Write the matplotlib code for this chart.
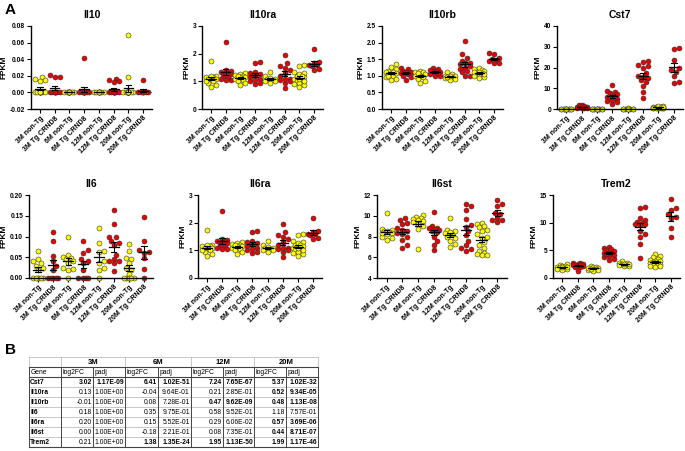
import numpy as np
import matplotlib
matplotlib.use("Agg")
import matplotlib.pyplot as plt

plt.rcParams['font.family'] = ['Liberation Sans', 'DejaVu Sans']

# ---------------- data ----------------
groups = ["3M non-Tg", "3M Tg CRND8", "6M non-Tg", "6M Tg CRND8",
          "12M non-Tg", "12M Tg CRND8", "20M non-Tg", "20M Tg CRND8"]

il10 = [
    [0.018, 0.016, 0.015, 0.014, 0, 0, 0, 0, 0, 0, 0, 0, 0, 0],
    [0.021, 0.019, 0.018, 0, 0, 0, 0, 0, 0, 0, 0, 0],
    [0, 0, 0, 0, 0, 0, 0, 0, 0, 0, 0, 0],
    [0.042, 0, 0, 0, 0, 0, 0, 0, 0, 0, 0, 0],
    [0, 0, 0, 0, 0, 0, 0, 0, 0, 0],
    [0.016, 0.015, 0.014, 0.013, 0, 0, 0, 0, 0, 0, 0, 0, 0, 0, 0],
    [0.069, 0.018, 0, 0, 0, 0, 0, 0, 0, 0, 0, 0, 0, 0, 0, 0, 0],
    [0.015, 0, 0, 0, 0, 0, 0, 0],
]
il10ra = [
    [1.75, 1.2, 1.15, 1.1, 1.05, 1.0, 0.95, 0.85, 0.8, 1.15, 1.1, 1.2, 1.0],
    [2.42, 1.42, 1.38, 1.35, 1.3, 1.2, 1.15, 1.1, 1.05, 1.05, 1.25],
    [1.3, 1.25, 1.22, 1.2, 1.15, 1.1, 1.05, 1.0, 0.95, 0.85, 1.15, 1.2],
    [1.7, 1.65, 1.35, 1.25, 1.2, 1.15, 1.1, 1.0, 0.95, 0.9, 1.05, 1.3],
    [1.35, 1.2, 1.1, 1.08, 1.05, 1.0, 0.95, 1.12, 1.0],
    [1.95, 1.65, 1.5, 1.4, 1.3, 1.2, 1.1, 1.05, 1.0, 0.95, 0.75, 1.1, 1.55],
    [1.58, 1.55, 1.35, 1.3, 1.2, 1.15, 1.1, 1.05, 1.0, 0.95, 0.9, 0.85, 0.8, 1.25, 1.1, 1.0, 1.2],
    [2.17, 1.7, 1.65, 1.6, 1.58, 1.55, 1.45, 1.4],
]
il10rb = [
    [1.35, 1.28, 1.2, 1.15, 1.1, 1.05, 1.0, 0.95, 0.9, 0.88, 1.08, 1.12, 1.0],
    [1.25, 1.2, 1.15, 1.12, 1.1, 1.08, 1.05, 1.0, 0.95, 0.87],
    [1.15, 1.12, 1.1, 1.05, 1.0, 0.98, 0.95, 0.9, 0.85, 0.78, 1.08],
    [1.22, 1.2, 1.15, 1.12, 1.1, 1.05, 1.0, 0.98, 1.08, 1.18],
    [1.1, 1.05, 1.0, 0.98, 0.95, 0.92, 0.9, 0.88, 1.0, 0.97],
    [2.05, 1.65, 1.55, 1.45, 1.4, 1.35, 1.3, 1.25, 1.2, 1.15, 1.1, 1.0, 0.98, 1.38],
    [1.25, 1.2, 1.18, 1.15, 1.12, 1.1, 1.08, 1.05, 1.0, 0.95, 0.92, 1.12, 1.05],
    [1.68, 1.65, 1.55, 1.5, 1.48, 1.45, 1.4, 1.38],
]
cst7 = [
    [0.2, 0.1, 0.15, 0.1, 0.05, 0.2, 0.1, 0.15, 0.1, 0.1, 0.2, 0.1],
    [2.0, 1.8, 1.5, 1.2, 1.0, 0.8, 0.6, 0.5, 0.4, 0.3, 1.0],
    [0.2, 0.1, 0.15, 0.1, 0.1, 0.2, 0.1, 0.15, 0.1, 0.1, 0.2, 0.1],
    [11.5, 8.5, 8.0, 7.5, 7.0, 6.5, 6.0, 5.5, 5.0, 4.5, 4.0, 3.5, 2.5, 6.0],
    [0.2, 0.15, 0.2, 0.1, 0.2, 0.25, 0.2, 0.15, 0.2, 0.2],
    [23.0, 22.5, 21.0, 20.5, 20.0, 17.5, 16.0, 15.5, 15.0, 14.0, 13.0, 11.0, 8.0, 5.5],
    [1.5, 1.2, 1.0, 0.8, 0.6, 0.5, 0.4, 0.3, 1.1, 0.9, 0.7, 0.6, 0.5, 1.3, 0.8, 0.4, 0.9],
    [29.5, 29.0, 23.5, 20.0, 19.0, 18.0, 16.0, 13.0, 12.5],
]
il6 = [
    [0.065, 0.045, 0.04, 0.035, 0.03, 0.025, 0.02, 0, 0, 0, 0, 0, 0],
    [0.11, 0.09, 0.052, 0.04, 0.03, 0.02, 0, 0, 0, 0, 0],
    [0.1, 0.055, 0.05, 0.048, 0.045, 0.04, 0.035, 0.025, 0.022, 0.02, 0],
    [0.09, 0.068, 0.06, 0.045, 0.04, 0.035, 0.02, 0, 0, 0, 0],
    [0.12, 0.085, 0.065, 0.063, 0.04, 0.035, 0.025, 0.02, 0],
    [0.165, 0.13, 0.1, 0.098, 0.09, 0.085, 0.08, 0.055, 0.045, 0.04, 0.04, 0.035, 0.018],
    [0.082, 0.065, 0.048, 0.045, 0.035, 0.025, 0.02, 0.01, 0, 0, 0, 0, 0, 0],
    [0.148, 0.088, 0.068, 0.063, 0.06, 0.047, 0.022, 0],
]
il6ra = [list(g) for g in il10ra]
il6st = [
    [10.3, 8.7, 8.6, 8.5, 8.4, 8.3, 8.2, 8.0, 7.9, 7.7, 8.5, 8.3],
    [9.8, 9.6, 9.3, 9.2, 8.8, 8.5, 8.3, 8.2, 8.0, 7.7, 7.2, 6.9, 8.6],
    [10.1, 9.9, 9.8, 9.7, 9.6, 9.5, 9.4, 9.2, 9.0, 8.7, 6.8],
    [10.4, 9.0, 8.8, 8.8, 8.6, 8.5, 8.4, 8.0, 7.6, 7.2, 6.7, 8.7],
    [9.8, 8.6, 8.5, 8.3, 8.2, 8.0, 7.9, 7.6, 7.3, 7.0, 8.4],
    [11.1, 10.9, 10.6, 9.7, 9.1, 8.9, 8.5, 8.1, 7.6, 7.2, 6.9, 6.8, 6.6],
    [9.3, 9.2, 9.0, 8.9, 8.6, 8.5, 8.2, 8.0, 7.9, 7.5, 7.2, 6.9, 6.6, 6.4, 6.3, 6.2, 6.2],
    [11.5, 11.1, 10.9, 10.3, 10.2, 9.8, 9.6, 9.6, 9.4],
]
trem2 = [
    [2.5, 2.3, 2.2, 2.1, 2.0, 1.9, 1.8, 1.7, 1.6, 1.5, 2.0, 1.9],
    [2.8, 2.7, 2.6, 2.5, 2.4, 2.3, 2.2, 2.1, 2.0, 1.9, 1.2, 2.4],
    [2.2, 2.0, 1.9, 1.8, 1.7, 1.6, 1.5, 1.4, 1.3, 1.8, 1.7],
    [5.6, 5.4, 5.2, 5.0, 4.8, 4.6, 4.4, 4.2, 4.0, 3.8, 3.5, 3.3, 4.5, 4.3],
    [3.0, 2.8, 2.7, 2.5, 2.4, 2.3, 2.2, 2.1, 2.6, 2.5],
    [12.8, 12.7, 10.8, 10.5, 10.2, 10.0, 9.8, 9.5, 8.5, 8.0, 7.5, 6.2, 3.6, 9.7],
    [4.3, 4.0, 3.8, 3.5, 3.3, 3.1, 3.0, 2.9, 2.8, 2.7, 2.6, 2.5, 2.4, 2.3, 2.2, 2.1, 2.0],
    [14.2, 12.6, 12.3, 11.5, 11.0, 10.8, 9.1, 7.5],
]

# table data
genes = ["Cst7", "Il10ra", "Il10rb", "Il6", "Il6ra", "Il6st", "Trem2"]
timepoints = ["3M", "6M", "12M", "20M"]
log2fc_3m = [3.02, 0.13, -0.01, 0.18, 0.20, 0.00, 0.21]
log2fc_6m = [6.41, -0.04, 0.08, 0.35, 0.15, -0.18, 1.38]
log2fc_12m = [7.24, 0.21, 0.47, 0.58, 0.29, 0.08, 1.95]
log2fc_20m = [5.37, 0.52, 0.48, 1.18, 0.57, 0.44, 1.99]
padj_3m = ["1.17E-09", "1.00E+00", "1.00E+00", "1.00E+00", "1.00E+00", "1.00E+00", "1.00E+00"]
padj_6m = ["1.02E-51", "9.64E-01", "7.28E-01", "9.75E-01", "5.52E-01", "2.21E-01", "1.35E-24"]
padj_12m = ["7.65E-67", "2.85E-01", "9.62E-09", "9.52E-01", "6.06E-02", "7.35E-01", "1.13E-50"]
padj_20m = ["1.02E-32", "9.34E-05", "1.13E-08", "7.57E-01", "3.69E-06", "8.71E-07", "1.17E-46"]

# ---------------- drawing ----------------
W, H = 685, 451
fig = plt.figure(figsize=(W / 100, H / 100), dpi=100)

YELLOW = "#FFFF00"
RED = "#E60000"


def rect(l, t, r, b):
    return [l / W, 1 - b / H, (r - l) / W, (b - t) / H]


def swarm(vals, center, w_px, h_px, xlim, ylim, d=5.0, cap=0.36):
    vals = np.asarray(vals, float)
    xdpp = (xlim[1] - xlim[0]) / w_px
    ypx = h_px / (ylim[1] - ylim[0])
    cap_px = cap / xdpp
    step = d * 0.5
    cands = [0.0]
    k = 1
    while k * step <= cap_px:
        cands += [k * step, -k * step]
        k += 1
    placed = []
    out = np.zeros(len(vals))
    for i in np.argsort(vals):
        y = vals[i] * ypx
        best, bestscore = 0.0, -1
        for c in cands:
            md = min((np.hypot(c - px, y - py) for px, py in placed), default=1e9)
            if md >= d * 0.9:
                best = c
                break
            if md > bestscore:
                bestscore, best = md, c
        placed.append((best, y))
        out[i] = center + best * xdpp
    return out


panels = [
    ("Il10", il10, (31, 26, 152, 109), (-0.02, 0.08), 0.02, "%.2f"),
    ("Il10ra", il10ra, (202, 26, 323, 109), (0, 3), 1, "%d"),
    ("Il10rb", il10rb, (382, 26, 503, 109), (0, 2.5), 0.5, "%.1f"),
    ("Cst7", cst7, (557, 26, 683, 109), (0, 40), 10, "%d"),
    ("Il6", il6, (29, 195, 153, 278), (0, 0.2), 0.05, "%.2f"),
    ("Il6ra", il6ra, (198, 195, 322, 278), (0, 3), 1, "%d"),
    ("Il6st", il6st, (377, 195, 507, 278), (4, 12), 2, "%d"),
    ("Trem2", trem2, (553, 195, 680, 278), (0, 15), 5, "%d"),
]

xlim = (-0.6, 7.6)
for title, data, (l, t, r, b), ylim, step, fmt in panels:
    ax = fig.add_axes(rect(l, t, r, b))
    ax.set_xlim(*xlim)
    ax.set_ylim(*ylim)
    for gi, vals in enumerate(data):
        col = YELLOW if gi % 2 == 0 else RED
        xs = swarm(vals, gi, r - l, b - t, xlim, ylim)
        ax.scatter(xs, vals, s=13, facecolor=col, edgecolor="#333333",
                   linewidth=0.4, zorder=2, clip_on=False)
        v = np.asarray(vals, float)
        m = v.mean()
        se = v.std(ddof=1) / np.sqrt(len(v))
        ax.plot([gi - 0.33, gi + 0.33], [m, m], color="black", lw=0.9, zorder=3)
        ax.plot([gi, gi], [m - se, m + se], color="black", lw=0.8, zorder=3)
        ax.plot([gi - 0.18, gi + 0.18], [m + se, m + se], color="black", lw=0.8, zorder=3)
        ax.plot([gi - 0.18, gi + 0.18], [m - se, m - se], color="black", lw=0.8, zorder=3)
    if ylim[0] < 0:
        ax.axhline(0, color="black", ls=(0, (1, 1.5)), lw=0.7, zorder=1)
    yt = np.arange(ylim[0], ylim[1] + step / 2, step)
    ax.set_yticks(yt)
    ax.set_yticklabels([fmt % y if fmt != "%d" else "%d" % round(y) for y in yt],
                       fontsize=4.8, fontweight="bold")
    ax.set_xticks(range(len(groups)))
    ax.set_xticklabels(groups, rotation=45, ha="right", rotation_mode="anchor",
                       fontsize=5, fontweight="bold")
    ax.tick_params(axis="both", length=3, width=0.8, pad=1.2)
    for s in ("top", "right"):
        ax.spines[s].set_visible(False)
    for s in ("left", "bottom"):
        ax.spines[s].set_linewidth(1.0)
    ax.set_title(title, fontsize=7.5, fontweight="bold", pad=6)
    ax.set_ylabel("FPKM", fontsize=6, fontweight="bold", labelpad=1.5)

fig.text(5 / W, 1 - 3 / H, "A", fontsize=11, fontweight="bold", va="top", ha="left")
fig.text(5 / W, 1 - 343 / H, "B", fontsize=11, fontweight="bold", va="top", ha="left")

# ---------------- table ----------------
cols_x = [29, 61, 93, 125, 158, 191, 223, 254, 286, 318]
top, rh = 357, 10
nrows = 2 + len(genes)
bottom = top + nrows * rh
tax = fig.add_axes(rect(cols_x[0], top, cols_x[-1], bottom))
tax.set_xlim(cols_x[0], cols_x[-1])
tax.set_ylim(bottom, top)
tax.axis("off")

for i in range(nrows + 1):
    y = top + i * rh
    c, lw = ("#444444", 0.8) if i in (1, 2, nrows) else ("#b0b0b0", 0.5)
    tax.plot([cols_x[0], cols_x[-1]], [y, y], color=c, lw=lw, clip_on=False)
for j, x in enumerate(cols_x):
    if j in (0, len(cols_x) - 1):
        tax.plot([x, x], [top, bottom], color="#b0b0b0", lw=0.5, clip_on=False)
        tax.plot([x, x], [top + rh, bottom], color="#444444", lw=0.7, clip_on=False)
    elif j % 2 == 1:
        tax.plot([x, x], [top, top + rh], color="#b0b0b0", lw=0.5, clip_on=False)
        tax.plot([x, x], [top + rh, bottom], color="#444444", lw=0.7, clip_on=False)
    else:
        tax.plot([x, x], [top + rh, bottom], color="#444444", lw=0.7, clip_on=False)

fs = 4.9
tfam = ['Liberation Sans Narrow', 'Liberation Sans', 'DejaVu Sans']
log2fc_all = [log2fc_3m, log2fc_6m, log2fc_12m, log2fc_20m]
padj_all = [padj_3m, padj_6m, padj_12m, padj_20m]
for k, tp in enumerate(timepoints):
    x0, x1 = cols_x[1 + 2 * k], cols_x[3 + 2 * k]
    tax.text((x0 + x1) / 2, top + rh / 2, tp, ha="center", va="center",
             fontsize=fs + 0.6, fontweight="bold", family=tfam)
    tax.text(x0 + 1.2, top + 1.5 * rh, "log2FC", ha="left", va="center", fontsize=fs, family=tfam)
    tax.text(cols_x[2 + 2 * k] + 1.2, top + 1.5 * rh, "padj", ha="left", va="center",
             fontsize=fs, family=tfam)
tax.text(cols_x[0] + 1.2, top + 1.5 * rh, "Gene", ha="left", va="center", fontsize=fs, family=tfam)

for i, g in enumerate(genes):
    yc = top + (2 + i) * rh + rh / 2
    tax.text(cols_x[0] + 1.2, yc, g, ha="left", va="center", fontsize=fs,
             fontweight="bold", family=tfam)
    for k in range(4):
        p = padj_all[k][i]
        wgt = "bold" if float(p) < 0.05 else "normal"
        tax.text(cols_x[2 + 2 * k] - 1.2, yc, "%.2f" % log2fc_all[k][i], ha="right",
                 va="center", fontsize=fs, fontweight=wgt, family=tfam)
        tax.text(cols_x[3 + 2 * k] - 1.2, yc, p, ha="right", va="center",
                 fontsize=fs, fontweight=wgt, family=tfam)

fig.savefig("out.png", dpi=100)
